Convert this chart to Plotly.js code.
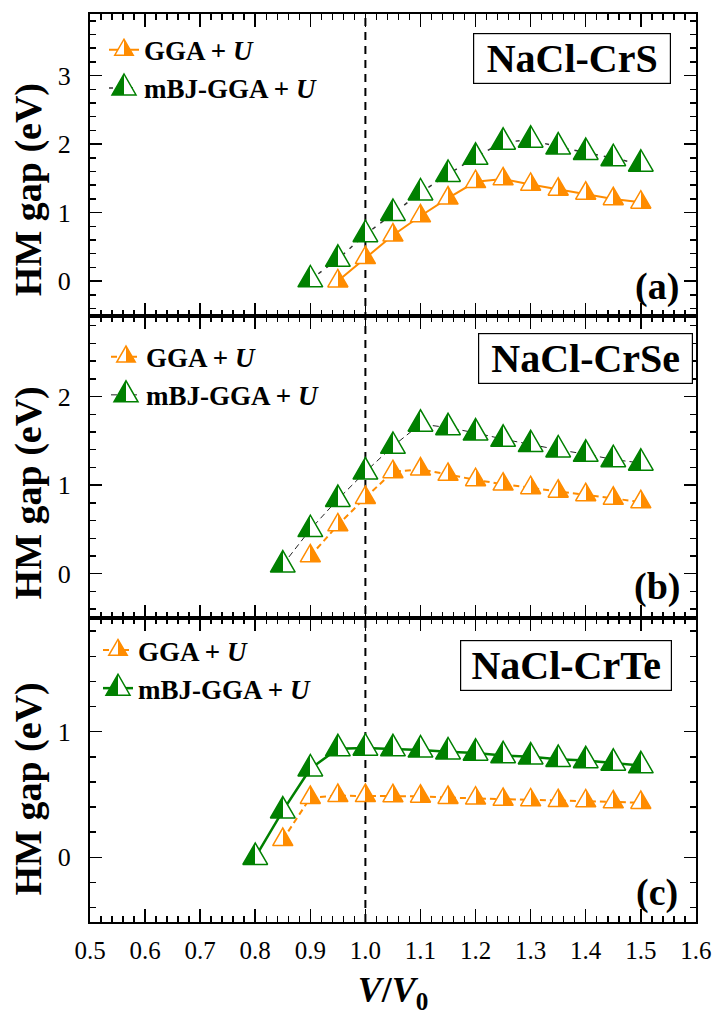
<!DOCTYPE html>
<html><head><meta charset="utf-8">
<script src="https://cdn.plot.ly/plotly-3.0.1.min.js"></script>
<style>
body{margin:0;background:#fff}
#chart{width:712px;height:1019px}
path.point, path.scatterpts{vector-effect:non-scaling-stroke}
</style>
</head><body><div id="chart"></div>
<script>
// ---- data ----
var xS_gga = [0.95,1.0,1.05,1.1,1.15,1.2,1.25,1.3,1.35,1.4,1.45,1.5];
var yS_gga = [0.0,0.34,0.67,0.95,1.21,1.45,1.49,1.41,1.34,1.28,1.20,1.15];
var xS_mbj = [0.9,0.95,1.0,1.05,1.1,1.15,1.2,1.25,1.3,1.35,1.4,1.45,1.5];
var yS_mbj = [0.02,0.32,0.68,0.99,1.29,1.56,1.81,2.03,2.06,1.96,1.88,1.79,1.71];

var xSe_gga = [0.9,0.95,1.0,1.05,1.1,1.15,1.2,1.25,1.3,1.35,1.4,1.45,1.5];
var ySe_gga = [0.20,0.55,0.86,1.15,1.18,1.12,1.06,1.01,0.97,0.93,0.89,0.85,0.81];
var xSe_mbj = [0.85,0.9,0.95,1.0,1.05,1.1,1.15,1.2,1.25,1.3,1.35,1.4,1.45,1.5];
var ySe_mbj = [0.10,0.50,0.84,1.15,1.44,1.69,1.65,1.59,1.52,1.46,1.40,1.35,1.29,1.25];

var xTe_gga = [0.85,0.9,0.95,1.0,1.05,1.1,1.15,1.2,1.25,1.3,1.35,1.4,1.45,1.5];
var yTe_gga = [0.14,0.475,0.49,0.49,0.488,0.485,0.475,0.47,0.46,0.456,0.45,0.448,0.44,0.435];
var xTe_mbj = [0.8,0.85,0.9,0.95,1.0,1.05,1.1,1.15,1.2,1.25,1.3,1.35,1.4,1.45,1.5];
var yTe_mbj = [0.0,0.37,0.705,0.865,0.87,0.865,0.855,0.84,0.83,0.81,0.80,0.78,0.77,0.75,0.73];

var seriesNames = ['<b>GGA + <i>U</i></b>', '<b>mBJ-GGA + <i>U</i></b>'];
var panelNames = ['<b>NaCl-CrS</b>', '<b>NaCl-CrSe</b>', '<b>NaCl-CrTe</b>'];
var panelLetters = ['<b>(a)</b>', '<b>(b)</b>', '<b>(c)</b>'];
var yTitle = '<b>HM gap (eV)</b>';
var xTitle = '<b><i>V</i>/<i>V</i><sub>0</sub></b>';
var refLine = 1.0;

// ---- styles ----
var FONT = '"Liberation Serif", "Times New Roman", Times, serif';
var ORANGE = '#FF8C00', GREEN = '#008000';

function ggaTrace(x, y, ax, leg, dash){
  return {x:x, y:y, xaxis:'x'+ax, yaxis:'y'+ax, legend:leg, name:seriesNames[0],
    type:'scatter', mode:'lines+markers',
    line:{color:ORANGE, width:2, dash:dash},
    marker:{symbol:'triangle-up', size:17.5, color:'#ffffff',
      line:{color:ORANGE, width:1.5}, gradient:{type:'horizontal', color:ORANGE}}};
}
function mbjTrace(x, y, ax, leg, lcolor, lwidth, dash){
  return {x:x, y:y, xaxis:'x'+ax, yaxis:'y'+ax, legend:leg, name:seriesNames[1],
    type:'scatter', mode:'lines+markers',
    line:{color:lcolor, width:lwidth, dash:dash},
    marker:{symbol:'triangle-up', size:21.5, color:GREEN,
      line:{color:GREEN, width:1.5}, gradient:{type:'horizontal', color:'#ffffff'}}};
}

var data = [
  ggaTrace(xS_gga, yS_gga, '', 'legend', 'solid'),
  mbjTrace(xS_mbj, yS_mbj, '', 'legend', '#333333', 1.5, '4px,6px'),
  ggaTrace(xSe_gga, ySe_gga, '2', 'legend2', '6px,4px'),
  mbjTrace(xSe_mbj, ySe_mbj, '2', 'legend2', '#222222', 1, '6px,4px'),
  ggaTrace(xTe_gga, yTe_gga, '3', 'legend3', '6px,4px'),
  mbjTrace(xTe_mbj, yTe_mbj, '3', 'legend3', GREEN, 2.5, 'solid')
];

function xax(anchor, labels){
  var a = {anchor:anchor, range:[0.5,1.6002], tick0:0.5, dtick:0.1, tickformat:'.1f',
    ticks:'inside', ticklen:13, tickwidth:1.5, tickcolor:'#000', mirror:'allticks',
    showline:true, linewidth:2, linecolor:'#000', showgrid:false, zeroline:false,
    minor:{tick0:0.5, dtick:0.02, ticks:'inside', ticklen:6, tickwidth:1.5, tickcolor:'#000', showgrid:false},
    showticklabels:labels, ticklabelstandoff:5, ticklabeloverflow:'allow',
    tickfont:{family:FONT, size:25, color:'#000'}};
  if(anchor !== 'y3') a.matches = 'x3';
  return a;
}
function yax(anchor, domain, range){
  return {anchor:anchor, domain:domain, range:range, tick0:0, dtick:1,
    ticks:'inside', ticklen:12, tickwidth:1.5, tickcolor:'#000', mirror:'allticks',
    showline:true, linewidth:2, linecolor:'#000', showgrid:false, zeroline:false,
    minor:{tick0:0, dtick:0.2, ticks:'inside', ticklen:6, tickwidth:1.5, tickcolor:'#000', showgrid:false},
    ticklabelstandoff:12,
    tickfont:{family:FONT, size:26, color:'#000'}};
}

function legendBox(x, y){
  return {x:x, y:y, xanchor:'left', yanchor:'top', bgcolor:'rgba(0,0,0,0)',
    font:{family:FONT, size:27, color:'#000'}, itemwidth:30, tracegroupgap:0};
}
function boxNote(text, x, y, w){
  return {text:text, xref:'paper', yref:'paper', x:x, y:y, xanchor:'center', yanchor:'middle',
    showarrow:false, font:{family:FONT, size:40, color:'#000'},
    bordercolor:'#000', borderwidth:1.2, borderpad:4, bgcolor:'#fff', width:w, height:41};
}
function letterNote(text, y){
  return {text:text, xref:'paper', yref:'paper', x:0.9356, y:y, xanchor:'center', yanchor:'middle',
    showarrow:false, font:{family:FONT, size:38, color:'#000'}};
}
function yTitleNote(y){
  return {text:yTitle, xref:'paper', yref:'paper', x:-0.1023, y:y, xanchor:'center', yanchor:'middle',
    textangle:-90, showarrow:false, font:{family:FONT, size:38, color:'#000'}};
}

var layout = {
  width:712, height:1019,
  margin:{l:90, r:16, t:14, b:97},
  paper_bgcolor:'#fff', plot_bgcolor:'#fff',
  font:{family:FONT, color:'#000'},
  xaxis: xax('y', false),
  xaxis2: xax('y2', false),
  xaxis3: (function(){ var a = xax('y3', true);
    a.title = {text:xTitle, standoff:14, font:{family:FONT, size:36, color:'#000'}}; return a; })(),
  yaxis: yax('x', [0.6674, 1], [-0.51, 3.9]),
  yaxis2: yax('x2', [0.3348, 0.6674], [-0.5, 2.91]),
  yaxis3: yax('x3', [0, 0.3348], [-0.515, 1.905]),
  legend: legendBox(0.0231, 0.987),
  legend2: legendBox(0.0264, 0.649),
  legend3: legendBox(0.0132, 0.326),
  annotations: [
    yTitleNote(0.806),
    yTitleNote(0.472),
    yTitleNote(0.146),
    boxNote(panelNames[0], 0.7946, 0.9515, 188),
    boxNote(panelNames[1], 0.8177, 0.6206, 205),
    boxNote(panelNames[2], 0.7855, 0.283, 202),
    letterNote(panelLetters[0], 0.700),
    letterNote(panelLetters[1], 0.370),
    letterNote(panelLetters[2], 0.032)
  ],
  shapes: [{type:'line', xref:'x3', yref:'paper', x0:refLine, x1:refLine, y0:0, y1:1,
    layer:'below', line:{color:'#000', width:2, dash:'8px,6px'}}]
};

function tweak(){
  var gd = document.getElementById('chart');
  gd.querySelectorAll('linearGradient').forEach(function(g){
    g.querySelectorAll('stop').forEach(function(s){ s.setAttribute('offset', '0.5'); });
  });
  gd.querySelectorAll('path.point').forEach(function(p){
    var t = p.getAttribute('transform') || '';
    if(t.indexOf('scale') < 0) p.setAttribute('transform', t + ' scale(1,1.33)');
  });
  gd.querySelectorAll('path.scatterpts').forEach(function(p){
    var t = p.getAttribute('transform') || '';
    var stroke = (p.style.stroke || '').replace(/\s/g, '');
    var isGreen = stroke.indexOf('0,128,0') >= 0;
    if(t.indexOf('scale') < 0) p.setAttribute('transform', t + (isGreen ? ' scale(1.3,1.75)' : ' scale(1,1.33)'));
  });
}

Plotly.newPlot('chart', data, layout, {staticPlot:true, displayModeBar:false}).then(tweak);
</script>
</body></html>
